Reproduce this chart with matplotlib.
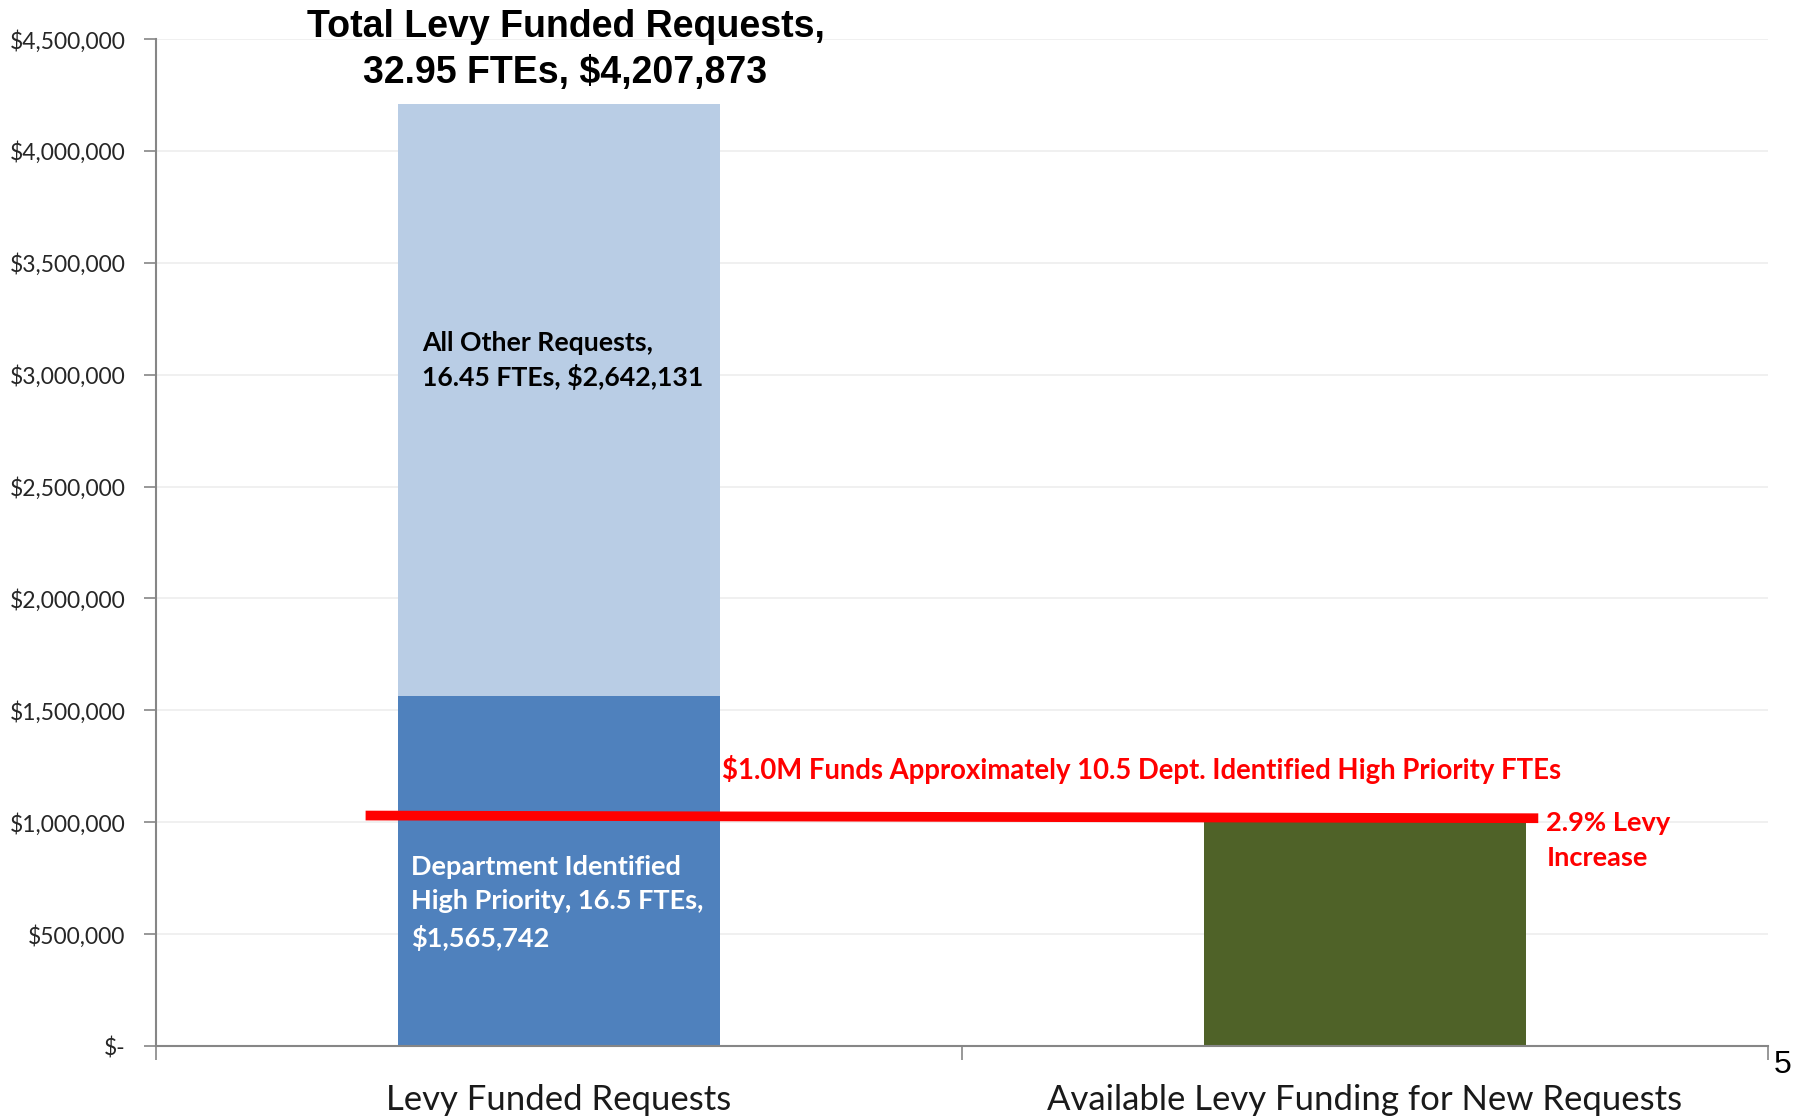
import matplotlib
matplotlib.use("Agg")
import matplotlib.pyplot as plt
from matplotlib.ticker import FuncFormatter

# data
categories = ["Levy Funded Requests", "Available Levy Funding for New Requests"]
high_priority = [1565742, 0]
other_requests = [2642131, 0]
available = [0, 1000000]

title_text = "Total Levy Funded Requests,\n32.95 FTEs, $4,207,873"
other_label = "All Other Requests,\n16.45 FTEs, $2,642,131"
high_label = "Department Identified\nHigh Priority, 16.5 FTEs,\n$1,565,742"
line_label = "$1.0M Funds Approximately 10.5 Dept. Identified High Priority FTEs"
levy_label = "2.9% Levy\nIncrease"

# red reference line (slightly tilted as in original)
levy_line_x = [-0.24, 1.215]
levy_line_y = [1030000, 1018000]

yticks = [0, 500000, 1000000, 1500000, 2000000, 2500000, 3000000, 3500000, 4000000, 4500000]

plt.rcParams['font.family'] = ['Lato', 'DejaVu Sans']

fig = plt.figure(figsize=(18, 11.16), dpi=100)
ax = fig.add_axes([0.0867, 0.0627, 0.8955, 0.9023])

x = [0, 1]
w = 0.4
ax.bar(x, high_priority, w, color='#4F81BD', zorder=2)
ax.bar(x, other_requests, w, bottom=high_priority, color='#B9CDE5', zorder=2)
ax.bar(x, available, w, color='#4F6228', zorder=2)

ax.plot(levy_line_x, levy_line_y, color='#FF0000', lw=7, solid_capstyle='butt', zorder=3)

ax.set_xlim(-0.5, 1.5)
ax.set_ylim(0, 4500000)
ax.set_yticks(yticks)
ax.yaxis.set_major_formatter(FuncFormatter(lambda v, p: "$-" if v == 0 else "${:,.0f}".format(v)))
ax.grid(axis='y', color='#EDEDED', lw=1.2, zorder=0)
ax.tick_params(axis='y', labelsize=16.5, color='#868686', length=9, width=1.2,
               labelcolor='#262626', pad=13)

ax.set_xticks([-0.5, 0.5, 1.5])
ax.set_xticklabels([])
ax.tick_params(axis='x', which='major', color='#868686', length=10, width=1.2)
ax.set_xticks(x, minor=True)
ax.set_xticklabels(categories, minor=True, fontsize=25, color='#1a1a1a')
ax.tick_params(axis='x', which='minor', length=0, pad=27)

for s in ['top', 'right']:
    ax.spines[s].set_visible(False)
for s in ['left', 'bottom']:
    ax.spines[s].set_color('#868686')
    ax.spines[s].set_linewidth(1.5)

# annotations
ax.text(0.008, 4450000, title_text, ha='center', va='center', fontsize=27,
        fontweight='bold', family='Liberation Sans', linespacing=1.36)
ax.text(-0.17, 3065000, other_label, ha='left', va='center', fontsize=19.2,
        fontweight='bold', color='black', linespacing=1.4)
ax.text(-0.184, 640000, high_label, ha='left', va='center', fontsize=19.5,
        fontweight='bold', color='white', linespacing=1.52)
ax.text(0.202, 1236000, line_label, ha='left', va='center', fontsize=19.8,
        fontweight='bold', color='#FF0000')
ax.text(1.225, 920000, levy_label, ha='left', va='center', fontsize=19.6,
        fontweight='bold', color='#FF0000', linespacing=1.55)

fig.text(0.9905, 0.0457, "5", ha='center', va='center', fontsize=23,
         family='Liberation Sans')

fig.savefig('out.png', dpi=100)
